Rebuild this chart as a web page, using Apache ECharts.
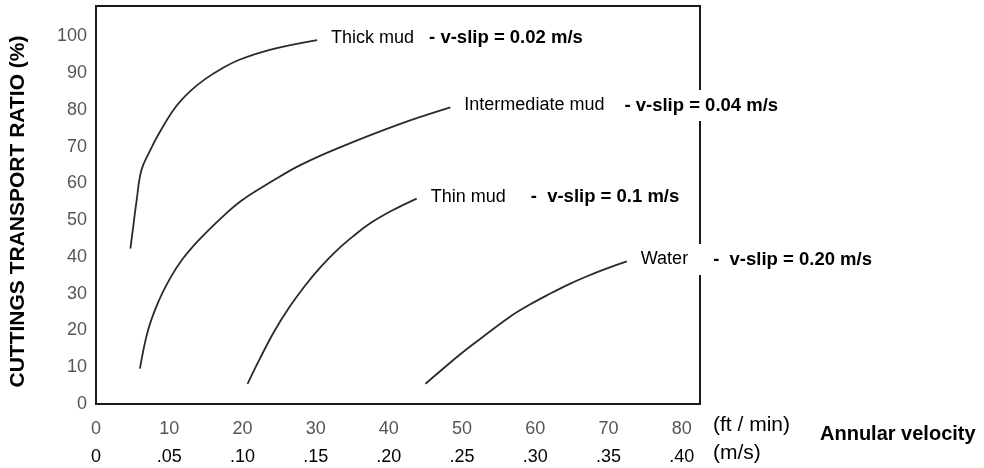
<!DOCTYPE html>
<html>
<head>
<meta charset="utf-8">
<script src="https://cdn.jsdelivr.net/npm/echarts@6/dist/echarts.min.js"></script>
<style>
  html, body { margin: 0; padding: 0; background: #fff; }
  #chart { width: 984px; height: 468px; }
</style>
</head>
<body>
<div id="chart"></div>
<script>
// ---- data (x: annular velocity ft/min, y: cuttings transport ratio %) ----
const thickMud = [[4.7,42.3],[5.1,48.5],[5.55,55.4],[6.2,63.6],[7.4,69.0],[8.6,73.6],[10.8,80.6],[12.8,85.0],[14.9,88.4],[17.2,91.3],[19.5,93.6],[23.6,96.3],[30.2,99.0]];
const intermediateMud = [[6.0,9.6],[7.1,20.0],[8.5,27.7],[10.1,34.1],[11.7,39.1],[14.0,44.5],[17.2,50.8],[19.9,55.4],[24.2,60.8],[27.9,65.0],[32.9,69.5],[41.1,75.9],[48.4,80.7]];
const thinMud = [[20.7,5.5],[22.3,12.0],[24.3,19.6],[26.4,26.3],[28.6,32.3],[30.7,37.3],[32.9,41.8],[35.1,45.6],[37.4,49.1],[40.5,52.7],[43.8,55.9]];
const water = [[45.0,5.5],[47.4,9.6],[49.8,13.6],[52.2,17.3],[56.5,23.7],[59.2,27.0],[62.0,30.0],[64.5,32.5],[67.0,34.7],[69.8,36.9],[72.5,38.8]];

const seriesNames = ['Thick mud', 'Intermediate mud', 'Thin mud', 'Water'];
const slipTexts = ['- v-slip = 0.02 m/s', '- v-slip = 0.04 m/s', '-  v-slip = 0.1 m/s', '-  v-slip = 0.20 m/s'];

const ftTicks = ['0','10','20','30','40','50','60','70','80'];
const msTicks = ['0','.05','.10','.15','.20','.25','.30','.35','.40'];
const yTicks = ['0','10','20','30','40','50','60','70','80','90','100'];

const xUnitFt = '(ft / min)';
const xUnitMs = '(m/s)';
const xTitle = 'Annular velocity';
const yTitle = 'CUTTINGS TRANSPORT RATIO (%)';

// ---- chart ----
const FONT = '"Liberation Sans", Arial, Helvetica, sans-serif';
const allData = [thickMud, intermediateMud, thinMud, water];
const nameGaps = [15, 20, 25, 25];

const chart = echarts.init(document.getElementById('chart'), null, { renderer: 'canvas' });

chart.setOption({
  animation: false,
  backgroundColor: '#fff',
  textStyle: { fontFamily: FONT },
  grid: {
    left: 96, top: 6, width: 604, height: 398,
    show: true, borderColor: '#1a1a1a', borderWidth: 2, backgroundColor: 'transparent'
  },
  xAxis: {
    type: 'value', min: 0, max: 82.5, interval: 10,
    axisLine: { show: false }, axisTick: { show: false }, splitLine: { show: false },
    axisLabel: {
      margin: 11, showMaxLabel: false,
      formatter: function (v) {
        const i = Math.round(v / 10);
        if (Math.abs(v - i * 10) > 1e-6 || i >= ftTicks.length) return '';
        return '{a|' + ftTicks[i] + '}\n{b|' + msTicks[i] + '}';
      },
      rich: {
        a: { fontSize: 18, color: '#555', lineHeight: 28, fontFamily: FONT },
        b: { fontSize: 18, color: '#000', lineHeight: 28, fontFamily: FONT }
      }
    }
  },
  yAxis: {
    type: 'value', min: 0, max: 108.3, interval: 10,
    axisLine: { show: false }, axisTick: { show: false }, splitLine: { show: false },
    axisLabel: {
      margin: 9, showMaxLabel: false, fontSize: 18, color: '#555', fontFamily: FONT,
      formatter: function (v) {
        const i = Math.round(v / 10);
        if (Math.abs(v - i * 10) > 1e-6 || i >= yTicks.length) return '';
        return yTicks[i];
      }
    },
    name: yTitle, nameLocation: 'middle', nameGap: 67, nameRotate: 90,
    nameTextStyle: { fontSize: 21, fontWeight: 'bold', color: '#000', fontFamily: FONT, padding: [0, 13, 0, 0] }
  },
  series: allData.map(function (d, k) {
    return {
      type: 'line', name: seriesNames[k], data: d,
      smooth: 0.4, showSymbol: false, symbol: 'none',
      lineStyle: { color: '#2a2a2a', width: 1.8 },
      endLabel: {
        show: true, distance: 0, offset: [14, -2],
        formatter: '{n|' + seriesNames[k] + '}{b|' + slipTexts[k] + '}',
        rich: {
          n: { fontSize: 18, color: '#000', fontFamily: FONT },
          b: { fontSize: 18.5, fontWeight: 'bold', color: '#000', fontFamily: FONT,
               backgroundColor: '#fff', padding: [6, 2, 6, nameGaps[k]] }
        }
      },
      z: 5
    };
  }),
  graphic: [
    { type: 'text', left: 713, top: 415, z: 10,
      style: { text: xUnitFt, fontSize: 21, fill: '#000', fontFamily: FONT } },
    { type: 'text', left: 713, top: 443, z: 10,
      style: { text: xUnitMs, fontSize: 21, fill: '#000', fontFamily: FONT } },
    { type: 'text', left: 820, top: 424, z: 10,
      style: { text: xTitle, fontSize: 20, fontWeight: 'bold', fill: '#000', fontFamily: FONT } }
  ]
});
</script>
</body>
</html>
